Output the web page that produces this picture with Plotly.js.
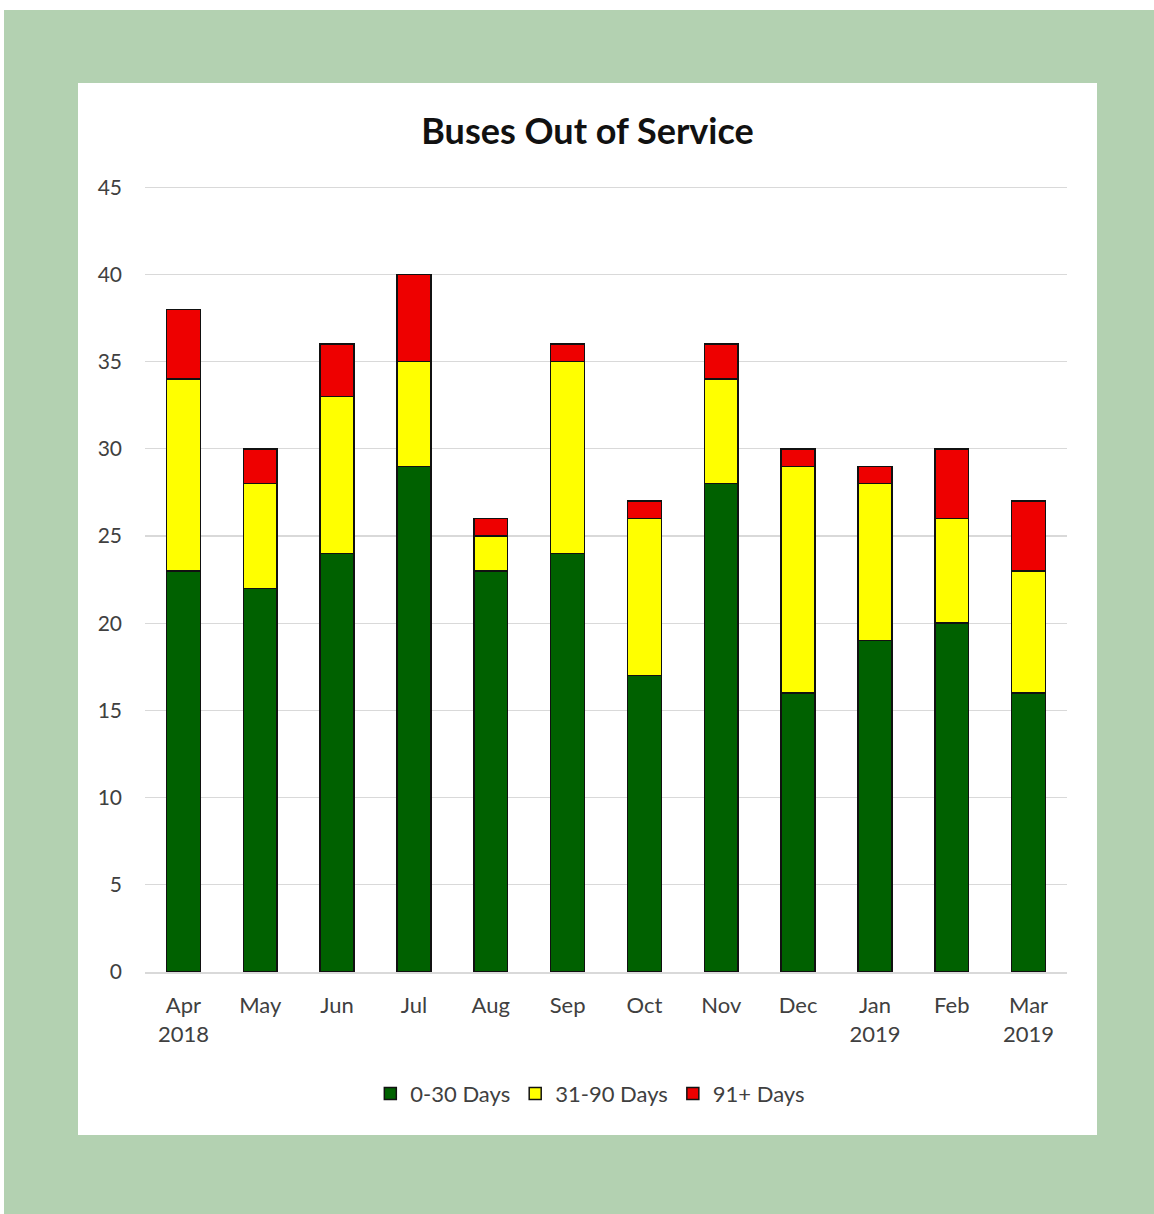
<!DOCTYPE html>
<html>
<head>
<meta charset="utf-8">
<script src="https://cdn.plot.ly/plotly-3.0.1.min.js"></script>
<style>
  html, body { margin: 0; padding: 0; background: #ffffff; }
  #frame { position: absolute; left: 4px; top: 10px; width: 1150px; height: 1204px; background: #b3d1b1; }
  #panel { position: absolute; left: 74px; top: 73px; width: 1019px; height: 1052px; background: #ffffff; }
  #chart { width: 1019px; height: 1052px; }
</style>
</head>
<body>
<div id="frame"><div id="panel"><div id="chart"></div></div></div>
<script>
const months = ["Apr<br>2018", "May", "Jun", "Jul", "Aug", "Sep", "Oct", "Nov", "Dec", "Jan<br>2019", "Feb", "Mar<br>2019"];
const days0to30 = [23, 22, 24, 29, 23, 24, 17, 28, 16, 19, 20, 16];
const days31to90 = [11, 6, 9, 6, 2, 11, 9, 6, 13, 9, 6, 7];
const days91plus = [4, 2, 3, 5, 1, 1, 1, 2, 1, 1, 4, 4];
const yTicks = [0, 5, 10, 15, 20, 25, 30, 35, 40, 45];

const line = { color: '#111111', width: 1.5 };
const traces = [
  { type: 'bar', name: '0-30 Days', x: months, y: days0to30, marker: { color: '#006100', line: line } },
  { type: 'bar', name: '31-90 Days', x: months, y: days31to90, marker: { color: '#ffff00', line: line } },
  { type: 'bar', name: '91+ Days', x: months, y: days91plus, marker: { color: '#ee0000', line: line } }
];

const layout = {
  barmode: 'stack',
  bargap: 0.56,
  width: 1019, height: 1052,
  paper_bgcolor: '#ffffff', plot_bgcolor: '#ffffff',
  margin: { l: 67, r: 30, t: 99, b: 163 },
  font: { family: 'Lato, "Open Sans", sans-serif', size: 21, color: '#404040' },
  title: { text: '<b>Buses Out of Service</b>', x: 0.5, xanchor: 'center', y: 1 - 48/1052, yanchor: 'middle',
           font: { size: 36, color: '#111111', family: 'Lato, "Open Sans", sans-serif' } },
  xaxis: { type: 'category', showgrid: false, showline: true, linecolor: '#d9d9d9', linewidth: 1.5,
           ticks: '', ticklabelstandoff: 13, tickfont: { size: 22, color: '#404040' } },
  yaxis: { range: [0, 45.3], tickvals: yTicks, showgrid: true, gridcolor: '#d9d9d9', gridwidth: 1.2,
           zeroline: false, showline: false, ticks: '', ticklabelstandoff: 22,
           tickfont: { size: 21, color: '#404040' } },
  legend: { orientation: 'h', x: 0.483, xanchor: 'center', y: -0.154, yanchor: 'middle',
            font: { size: 22, color: '#404040' }, traceorder: 'normal', itemwidth: 20 },
  showlegend: true
};

Plotly.newPlot('chart', traces, layout, { displayModeBar: false, staticPlot: true });
</script>
</body>
</html>
